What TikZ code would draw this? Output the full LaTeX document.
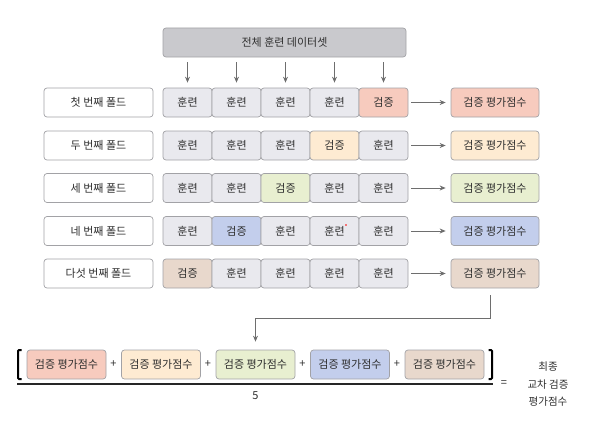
\documentclass[tikz,border=0pt]{standalone}
\usepackage{fontspec}
\setmainfont{Noto Sans CJK KR}
\usetikzlibrary{arrows.meta}

\definecolor{txt}{HTML}{2E2E2E}
\definecolor{edge}{HTML}{A2A2A6}
\definecolor{trainfill}{HTML}{E9E9EE}
\definecolor{allfill}{HTML}{C9C9CD}
\definecolor{redfill}{HTML}{F7CBBE}
\definecolor{creamfill}{HTML}{FEEBD2}
\definecolor{greenfill}{HTML}{E8EFD0}
\definecolor{bluefill}{HTML}{C3CEEC}
\definecolor{tanfill}{HTML}{E8D8CC}
\definecolor{arrowgray}{HTML}{6E6E6E}

\begin{document}
\begin{tikzpicture}[x=1pt,y=-1pt,
  every node/.style={text=txt, font=\fontsize{11}{12}\selectfont},
  box/.style={draw=edge, line width=0.7pt, rounded corners=3pt, inner sep=0pt, minimum height=29pt},
  foldbox/.style={box, fill=white, minimum width=109pt},
  cell/.style={box, minimum width=49pt},
  train/.style={cell, fill=trainfill},
  val/.style={cell, fill=#1},
  score/.style={box, fill=#1, minimum width=88pt},
  sumbox/.style={box, fill=#1, minimum width=79pt},
  arr/.style={draw=arrowgray, line width=0.8pt, -{Stealth[length=6pt,width=5pt]}}]
\useasboundingbox (0,0) rectangle (612,428);

% top
\node[box, fill=allfill, minimum width=243pt] (all) at (284.5,42.5) {전체 훈련 데이터셋};

% first fold
\node[foldbox] (f1) at (98.5,102.5) {첫 번째 폴드};
\node[train] (c11) at (187.5,102.5) {훈련};
\node[train] (c12) at (236.5,102.5) {훈련};
\node[train] (c13) at (285.5,102.5) {훈련};
\node[train] (c14) at (334.5,102.5) {훈련};
\node[val=redfill] (c15) at (383.5,102.5) {검증};
\node[score=redfill] (s1) at (495,102.5) {검증 평가점수};

% second fold
\node[foldbox] (f2) at (98.5,145.5) {두 번째 폴드};
\node[train] (c21) at (187.5,145.5) {훈련};
\node[train] (c22) at (236.5,145.5) {훈련};
\node[train] (c23) at (285.5,145.5) {훈련};
\node[val=creamfill] (c24) at (334.5,145.5) {검증};
\node[train] (c25) at (383.5,145.5) {훈련};
\node[score=creamfill] (s2) at (495,145.5) {검증 평가점수};

% third fold
\node[foldbox] (f3) at (98.5,188) {세 번째 폴드};
\node[train] (c31) at (187.5,188) {훈련};
\node[train] (c32) at (236.5,188) {훈련};
\node[val=greenfill] (c33) at (285.5,188) {검증};
\node[train] (c34) at (334.5,188) {훈련};
\node[train] (c35) at (383.5,188) {훈련};
\node[score=greenfill] (s3) at (495,188) {검증 평가점수};

% fourth fold
\node[foldbox] (f4) at (98.5,231) {네 번째 폴드};
\node[train] (c41) at (187.5,231) {훈련};
\node[val=bluefill] (c42) at (236.5,231) {검증};
\node[train] (c43) at (285.5,231) {훈련};
\node[train] (c44) at (334.5,231) {훈련};
\node[train] (c45) at (383.5,231) {훈련};
\node[score=bluefill] (s4) at (495,231) {검증 평가점수};
\fill[red] (346,225) circle (0.9);

% fifth fold
\node[foldbox] (f5) at (98.5,273.5) {다섯 번째 폴드};
\node[val=tanfill] (c51) at (187.5,273.5) {검증};
\node[train] (c52) at (236.5,273.5) {훈련};
\node[train] (c53) at (285.5,273.5) {훈련};
\node[train] (c54) at (334.5,273.5) {훈련};
\node[train] (c55) at (383.5,273.5) {훈련};
\node[score=tanfill] (s5) at (495,273.5) {검증 평가점수};

% arrows
\draw[arr, shorten <=5pt, shorten >=5pt] (all.south -| c11) -- (c11);
\draw[arr, shorten <=5pt, shorten >=5pt] (all.south -| c12) -- (c12);
\draw[arr, shorten <=5pt, shorten >=5pt] (all.south -| c13) -- (c13);
\draw[arr, shorten <=5pt, shorten >=5pt] (all.south -| c14) -- (c14);
\draw[arr, shorten <=5pt, shorten >=5pt] (all.south -| c15) -- (c15);
\draw[arr, shorten <=3pt, shorten >=5pt] (c15) -- (s1);
\draw[arr, shorten <=3pt, shorten >=5pt] (c25) -- (s2);
\draw[arr, shorten <=3pt, shorten >=5pt] (c35) -- (s3);
\draw[arr, shorten <=3pt, shorten >=5pt] (c45) -- (s4);
\draw[arr, shorten <=3pt, shorten >=5pt] (c55) -- (s5);

% average
\node[sumbox=redfill] (b1) at (66.5,364.5) {검증 평가점수};
\node (p1) at (113.5,364.5) {+};
\node[sumbox=creamfill] (b2) at (161,364.5) {검증 평가점수};
\node (p2) at (208,364.5) {+};
\node[sumbox=greenfill] (b3) at (255.5,364.5) {검증 평가점수};
\node (p3) at (302.5,364.5) {+};
\node[sumbox=bluefill] (b4) at (350,364.5) {검증 평가점수};
\node (p4) at (397,364.5) {+};
\node[sumbox=tanfill] (b5) at (444.5,364.5) {검증 평가점수};

\coordinate (turn) at (255.5,318);
\draw[arr, shorten >=8pt] ([xshift=-5pt,yshift=-7pt]s5.south) |- (turn) -- (b3.north);

\draw[line width=2pt, rounded corners=1pt] (21.5,350) -- (18,350) -- (18,379) -- (21.5,379);
\draw[line width=2pt, rounded corners=1pt] (488.5,350) -- (492,350) -- (492,379) -- (488.5,379);
\draw[line width=2pt, draw=black!85] (17,384) -- (493,384);
\node (five) at (255.5,396) {5};
\node (eq) at (504,384) {=};
\node[align=center, font=\fontsize{10.5}{17.5}\selectfont] (final) at (548,384.5) {최종\\교차 검증\\평가점수};
\end{tikzpicture}
\end{document}
